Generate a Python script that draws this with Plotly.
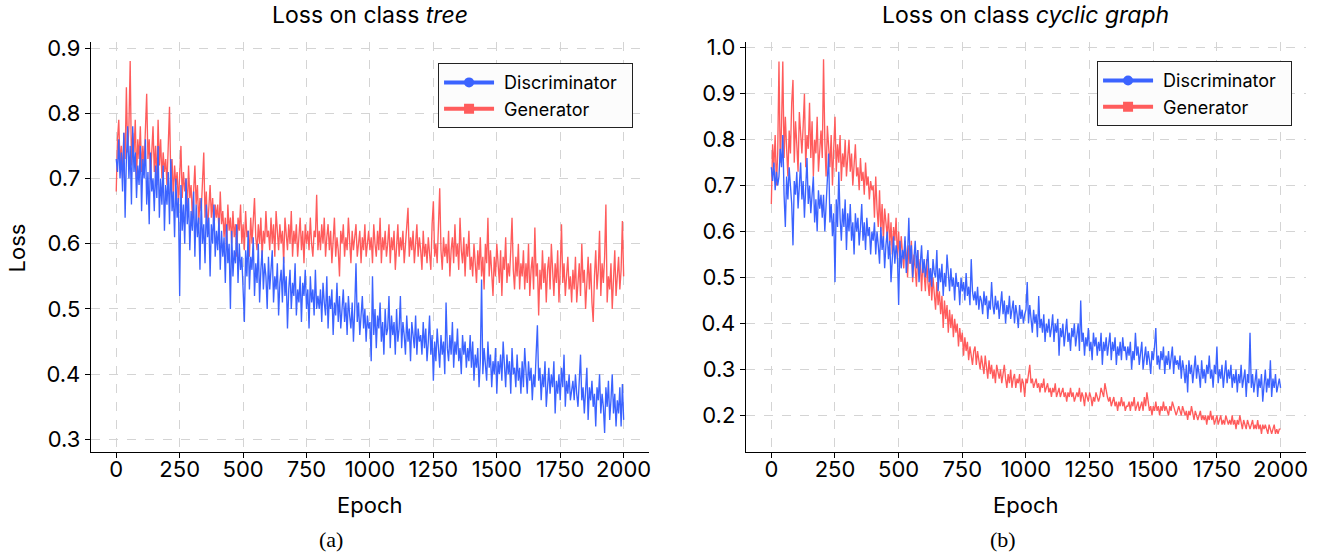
import plotly.graph_objects as go

# ---------------- data (sampled every 5 epochs) ----------------
epochs = list(range(0, 2001, 5))

tree_disc = [
    0.73, 0.71, 0.76, 0.70, 0.74, 0.68, 0.77, 0.64, 0.73, 0.78, 0.70, 0.75, 0.66, 0.78, 0.71, 0.74, 0.67, 0.72, 0.69, 0.75,
    0.65, 0.73, 0.70, 0.76, 0.66, 0.71, 0.63, 0.74, 0.68, 0.70, 0.65, 0.72, 0.67, 0.75, 0.64, 0.70, 0.66, 0.72, 0.62, 0.69,
    0.66, 0.71, 0.63, 0.73, 0.65, 0.68, 0.61, 0.70, 0.64, 0.67, 0.52, 0.69, 0.62, 0.66, 0.60, 0.70, 0.63, 0.67, 0.59, 0.65,
    0.62, 0.68, 0.58, 0.66, 0.61, 0.64, 0.56, 0.67, 0.60, 0.63, 0.57, 0.66, 0.61, 0.64, 0.55, 0.63, 0.60, 0.66, 0.58, 0.62,
    0.59, 0.64, 0.56, 0.62, 0.58, 0.61, 0.54, 0.63, 0.57, 0.60, 0.50, 0.62, 0.55, 0.59, 0.57, 0.63, 0.54, 0.60, 0.56, 0.58,
    0.53, 0.48, 0.59, 0.55, 0.62, 0.53, 0.58, 0.56, 0.61, 0.52, 0.57, 0.54, 0.60, 0.51, 0.56, 0.59, 0.53, 0.57, 0.55, 0.50,
    0.58, 0.53, 0.56, 0.59, 0.51, 0.55, 0.53, 0.57, 0.49, 0.54, 0.56, 0.51, 0.58, 0.52, 0.55, 0.47, 0.53, 0.56, 0.50, 0.54,
    0.52, 0.57, 0.49, 0.53, 0.51, 0.55, 0.48, 0.54, 0.52, 0.56, 0.50, 0.53, 0.47, 0.55, 0.51, 0.53, 0.49, 0.56, 0.50, 0.52,
    0.50, 0.53, 0.48, 0.54, 0.51, 0.49, 0.55, 0.47, 0.52, 0.50, 0.53, 0.46, 0.51, 0.49, 0.54, 0.48, 0.52, 0.47, 0.50, 0.53,
    0.48, 0.51, 0.46, 0.52, 0.49, 0.47, 0.51, 0.45, 0.50, 0.57, 0.48, 0.51, 0.46, 0.49, 0.52, 0.47, 0.50, 0.45, 0.49, 0.47,
    0.48, 0.42, 0.55, 0.46, 0.50, 0.44, 0.49, 0.47, 0.51, 0.45, 0.48, 0.43, 0.50, 0.46, 0.47, 0.52, 0.44, 0.49, 0.46, 0.48,
    0.43, 0.50, 0.45, 0.47, 0.52, 0.44, 0.48, 0.46, 0.43, 0.49, 0.45, 0.47, 0.42, 0.48, 0.46, 0.44, 0.49, 0.43, 0.47, 0.45,
    0.46, 0.43, 0.48, 0.44, 0.47, 0.42, 0.45, 0.49, 0.43, 0.46, 0.39, 0.45, 0.42, 0.47, 0.44, 0.41, 0.46, 0.43, 0.45, 0.40,
    0.51, 0.44, 0.42, 0.46, 0.43, 0.48, 0.41, 0.45, 0.43, 0.47, 0.42, 0.44, 0.40, 0.46, 0.43, 0.45, 0.41, 0.44, 0.42, 0.46,
    0.41, 0.45, 0.39, 0.43, 0.41, 0.44, 0.38, 0.42, 0.545, 0.40, 0.44, 0.42, 0.39, 0.45, 0.41, 0.43, 0.38, 0.42, 0.40, 0.44,
    0.37, 0.42, 0.40, 0.43, 0.39, 0.45, 0.41, 0.38, 0.43, 0.40, 0.42, 0.37, 0.44, 0.40, 0.41, 0.38, 0.43, 0.39, 0.41, 0.37,
    0.42, 0.38, 0.44, 0.40, 0.37, 0.42, 0.39, 0.41, 0.36, 0.40, 0.38, 0.43, 0.475, 0.39, 0.41, 0.36, 0.40, 0.38, 0.42, 0.35,
    0.39, 0.41, 0.37, 0.40, 0.38, 0.42, 0.34, 0.39, 0.37, 0.40, 0.36, 0.41, 0.38, 0.43, 0.35, 0.39, 0.37, 0.40, 0.36, 0.38,
    0.39, 0.36, 0.40, 0.37, 0.35, 0.39, 0.43, 0.36, 0.38, 0.34, 0.37, 0.41, 0.33, 0.38, 0.36, 0.39, 0.35, 0.37, 0.32, 0.38,
    0.36, 0.40, 0.34, 0.37, 0.35, 0.31, 0.38, 0.35, 0.39, 0.33, 0.36, 0.40, 0.34, 0.37, 0.32, 0.36, 0.34, 0.38, 0.32, 0.385,
    0.33,
]

tree_gen = [
    0.68, 0.76, 0.79, 0.72, 0.75, 0.70, 0.77, 0.73, 0.84, 0.74, 0.78, 0.88, 0.72, 0.77, 0.74, 0.79, 0.70, 0.76, 0.73, 0.78,
    0.71, 0.75, 0.72, 0.77, 0.83, 0.73, 0.76, 0.70, 0.74, 0.78, 0.71, 0.75, 0.69, 0.79, 0.72, 0.76, 0.70, 0.74, 0.71, 0.73,
    0.69, 0.74, 0.81, 0.70, 0.73, 0.67, 0.72, 0.69, 0.71, 0.66, 0.70, 0.75, 0.67, 0.71, 0.68, 0.70, 0.65, 0.72, 0.67, 0.69,
    0.64, 0.68, 0.72, 0.66, 0.69, 0.63, 0.67, 0.65, 0.70, 0.74, 0.64, 0.68, 0.62, 0.66, 0.69, 0.64, 0.67, 0.62, 0.66, 0.64,
    0.66, 0.62, 0.68, 0.63, 0.65, 0.61, 0.64, 0.59, 0.66, 0.62, 0.64, 0.60, 0.65, 0.61, 0.63, 0.58, 0.64, 0.62, 0.66, 0.60,
    0.63, 0.59, 0.65, 0.61, 0.62, 0.58, 0.64, 0.60, 0.63, 0.67, 0.61, 0.59, 0.63, 0.60, 0.64, 0.58, 0.62, 0.60, 0.65, 0.61,
    0.62, 0.59, 0.64, 0.60, 0.63, 0.58, 0.65, 0.61, 0.59, 0.63, 0.60, 0.62, 0.57, 0.64, 0.61, 0.59, 0.63, 0.60, 0.65, 0.58,
    0.62, 0.60, 0.63, 0.58, 0.61, 0.64, 0.59, 0.62, 0.57, 0.63, 0.60, 0.62, 0.59, 0.64, 0.60, 0.58, 0.62, 0.61, 0.675, 0.59,
    0.62, 0.59, 0.63, 0.60, 0.64, 0.58, 0.61, 0.63, 0.59, 0.62, 0.57, 0.60, 0.64, 0.58, 0.61, 0.59, 0.55, 0.62, 0.60, 0.63,
    0.58, 0.61, 0.59, 0.64, 0.60, 0.57, 0.62, 0.59, 0.61, 0.63, 0.58, 0.60, 0.62, 0.57, 0.61, 0.59, 0.63, 0.58, 0.60, 0.62,
    0.59, 0.61, 0.57, 0.63, 0.60, 0.58, 0.62, 0.59, 0.64, 0.57, 0.61, 0.59, 0.62, 0.58, 0.60, 0.63, 0.57, 0.61, 0.59, 0.62,
    0.56, 0.60, 0.63, 0.58, 0.61, 0.59, 0.62, 0.57, 0.60, 0.64, 0.655, 0.58, 0.61, 0.59, 0.62, 0.57, 0.60, 0.63, 0.58, 0.61,
    0.59, 0.56, 0.62, 0.58, 0.60, 0.57, 0.61, 0.59, 0.56, 0.63, 0.665, 0.58, 0.60, 0.57, 0.62, 0.685, 0.59, 0.56, 0.61, 0.58,
    0.60, 0.57, 0.62, 0.55, 0.59, 0.61, 0.57, 0.63, 0.58, 0.60, 0.56, 0.64, 0.59, 0.57, 0.61, 0.55, 0.60, 0.58, 0.62, 0.56,
    0.58, 0.55, 0.60, 0.57, 0.54, 0.59, 0.56, 0.61, 0.55, 0.58, 0.53, 0.60, 0.57, 0.64, 0.55, 0.59, 0.56, 0.52, 0.58, 0.55,
    0.60, 0.57, 0.54, 0.59, 0.52, 0.58, 0.56, 0.61, 0.54, 0.57, 0.55, 0.59, 0.64, 0.56, 0.53, 0.58, 0.55, 0.60, 0.53, 0.57,
    0.55, 0.59, 0.53, 0.57, 0.54, 0.60, 0.52, 0.56, 0.58, 0.53, 0.625, 0.55, 0.57, 0.49, 0.56, 0.53, 0.59, 0.54, 0.57, 0.51,
    0.56, 0.58, 0.53, 0.60, 0.55, 0.52, 0.57, 0.54, 0.59, 0.51, 0.56, 0.63, 0.54, 0.57, 0.52, 0.56, 0.58, 0.53, 0.55, 0.51,
    0.56, 0.53, 0.58, 0.51, 0.55, 0.57, 0.52, 0.60, 0.54, 0.56, 0.50, 0.55, 0.58, 0.53, 0.57, 0.51, 0.48, 0.55, 0.59, 0.53,
    0.56, 0.62, 0.52, 0.57, 0.54, 0.58, 0.66, 0.51, 0.55, 0.53, 0.57, 0.50, 0.56, 0.59, 0.52, 0.55, 0.58, 0.53, 0.56, 0.635,
    0.55,
]

cyc_disc = [
    0.74, 0.71, 0.75, 0.69, 0.73, 0.70, 0.72, 0.78, 0.74, 0.81, 0.68, 0.61, 0.72, 0.67, 0.74, 0.70, 0.66, 0.57, 0.71, 0.68,
    0.73, 0.65, 0.70, 0.75, 0.67, 0.71, 0.63, 0.69, 0.76, 0.66, 0.70, 0.64, 0.68, 0.72, 0.62, 0.67, 0.60, 0.69, 0.65, 0.68,
    0.63, 0.68, 0.60, 0.66, 0.70, 0.77, 0.62, 0.66, 0.59, 0.64, 0.49, 0.67, 0.61, 0.73, 0.63, 0.58, 0.65, 0.61, 0.67, 0.56,
    0.64, 0.60, 0.66, 0.58, 0.62, 0.55, 0.64, 0.60, 0.63, 0.57, 0.61, 0.66, 0.58, 0.62, 0.56, 0.63, 0.59, 0.61, 0.55, 0.60,
    0.58, 0.62, 0.55, 0.60, 0.57, 0.53, 0.61, 0.56, 0.59, 0.52, 0.57, 0.60, 0.54, 0.58, 0.49, 0.56, 0.59, 0.53, 0.57, 0.55,
    0.44, 0.58, 0.52, 0.56, 0.54, 0.59, 0.51, 0.55, 0.63, 0.53, 0.57, 0.50, 0.55, 0.58, 0.52, 0.56, 0.49, 0.54, 0.57, 0.51,
    0.54, 0.50, 0.53, 0.56, 0.49, 0.52, 0.48, 0.54, 0.51, 0.50, 0.56, 0.47, 0.52, 0.49, 0.53, 0.46, 0.51, 0.48, 0.55, 0.50,
    0.47, 0.52, 0.48, 0.50, 0.45, 0.51, 0.48, 0.49, 0.44, 0.50, 0.47, 0.49, 0.45, 0.51, 0.46, 0.48, 0.44, 0.54, 0.47, 0.45,
    0.47, 0.44, 0.48, 0.43, 0.46, 0.45, 0.42, 0.47, 0.44, 0.46, 0.41, 0.45, 0.43, 0.49, 0.44, 0.42, 0.46, 0.43, 0.45, 0.41,
    0.44, 0.47, 0.42, 0.45, 0.40, 0.44, 0.42, 0.46, 0.41, 0.43, 0.45, 0.40, 0.44, 0.42, 0.39, 0.44, 0.41, 0.43, 0.40, 0.42,
    0.43, 0.49, 0.40, 0.44, 0.41, 0.38, 0.43, 0.40, 0.42, 0.37, 0.46, 0.39, 0.41, 0.38, 0.42, 0.36, 0.40, 0.38, 0.41, 0.37,
    0.39, 0.42, 0.36, 0.40, 0.38, 0.41, 0.33, 0.39, 0.37, 0.40, 0.35, 0.38, 0.41, 0.36, 0.38, 0.34, 0.39, 0.37, 0.40, 0.35,
    0.37, 0.40, 0.34, 0.45, 0.36, 0.38, 0.33, 0.37, 0.35, 0.39, 0.34, 0.36, 0.32, 0.38, 0.35, 0.37, 0.33, 0.36, 0.34, 0.38,
    0.31, 0.36, 0.34, 0.37, 0.33, 0.35, 0.38, 0.32, 0.36, 0.34, 0.37, 0.31, 0.35, 0.33, 0.36, 0.32, 0.37, 0.34, 0.35, 0.32,
    0.35, 0.33, 0.36, 0.30, 0.34, 0.32, 0.38, 0.33, 0.35, 0.31, 0.34, 0.36, 0.30, 0.33, 0.35, 0.31, 0.34, 0.32, 0.29, 0.34,
    0.32, 0.35, 0.39, 0.31, 0.33, 0.30, 0.34, 0.32, 0.35, 0.29, 0.33, 0.31, 0.34, 0.30, 0.32, 0.35, 0.29, 0.33, 0.31, 0.32,
    0.30, 0.33, 0.28, 0.32, 0.30, 0.27, 0.31, 0.25, 0.32, 0.29, 0.31, 0.27, 0.30, 0.33, 0.28, 0.31, 0.29, 0.26, 0.32, 0.28,
    0.30, 0.27, 0.31, 0.29, 0.33, 0.28, 0.30, 0.26, 0.31, 0.29, 0.35, 0.27, 0.30, 0.28, 0.31, 0.26, 0.29, 0.32, 0.27, 0.30,
    0.28, 0.31, 0.26, 0.29, 0.27, 0.30, 0.25, 0.29, 0.27, 0.31, 0.26, 0.28, 0.30, 0.24, 0.29, 0.27, 0.38, 0.26, 0.29, 0.25,
    0.28, 0.30, 0.24, 0.28, 0.26, 0.29, 0.23, 0.27, 0.30, 0.25, 0.28, 0.26, 0.32, 0.24, 0.28, 0.26, 0.29, 0.25, 0.27, 0.28,
    0.26,
]

cyc_gen = [
    0.66, 0.79, 0.74, 0.81, 0.70, 0.77, 0.97, 0.75, 0.83, 0.97, 0.76, 0.85, 0.78, 0.72, 0.82, 0.77, 0.88, 0.93, 0.75, 0.84,
    0.79, 0.73, 0.86, 0.80, 0.77, 0.83, 0.90, 0.74, 0.81, 0.78, 0.88, 0.76, 0.84, 0.72, 0.80, 0.77, 0.85, 0.73, 0.79, 0.82,
    0.76, 0.975, 0.80, 0.72, 0.83, 0.77, 0.74, 0.81, 0.70, 0.78, 0.85, 0.73, 0.79, 0.75, 0.81, 0.71, 0.77, 0.74, 0.80, 0.72,
    0.76, 0.80, 0.73, 0.77, 0.70, 0.75, 0.79, 0.72, 0.74, 0.69, 0.76, 0.71, 0.73, 0.68, 0.75, 0.70, 0.72, 0.67, 0.71, 0.69,
    0.70, 0.63, 0.72, 0.65, 0.61, 0.69, 0.60, 0.66, 0.58, 0.65, 0.62, 0.59, 0.64, 0.57, 0.62, 0.55, 0.61, 0.58, 0.63, 0.54,
    0.60, 0.53, 0.59, 0.56, 0.52, 0.58, 0.55, 0.50, 0.57, 0.53, 0.58, 0.49, 0.55, 0.52, 0.48, 0.56, 0.51, 0.54, 0.47, 0.53,
    0.51, 0.47, 0.54, 0.49, 0.46, 0.52, 0.45, 0.50, 0.47, 0.43, 0.49, 0.44, 0.47, 0.42, 0.46, 0.39, 0.45, 0.41, 0.44, 0.38,
    0.43, 0.39, 0.42, 0.37, 0.41, 0.38, 0.40, 0.35, 0.39, 0.36, 0.38, 0.33, 0.37, 0.34, 0.36, 0.32, 0.35, 0.33, 0.31, 0.34,
    0.35, 0.31, 0.34, 0.32, 0.30, 0.33, 0.31, 0.29, 0.33, 0.30, 0.28, 0.32, 0.29, 0.31, 0.28, 0.30, 0.27, 0.31, 0.29, 0.28,
    0.30, 0.27, 0.29, 0.31, 0.28, 0.26, 0.29, 0.27, 0.30, 0.26, 0.28, 0.29, 0.26, 0.28, 0.27, 0.29, 0.25, 0.28, 0.27, 0.24,
    0.28, 0.27, 0.29, 0.31, 0.27, 0.28, 0.26, 0.27, 0.28, 0.26, 0.27, 0.25, 0.27, 0.26, 0.28, 0.25, 0.26, 0.27, 0.25, 0.26,
    0.24, 0.26, 0.25, 0.27, 0.24, 0.25, 0.26, 0.24, 0.25, 0.26, 0.24, 0.25, 0.23, 0.25, 0.24, 0.26, 0.24, 0.25, 0.23, 0.24,
    0.25, 0.24, 0.26, 0.23, 0.25, 0.24, 0.22, 0.25, 0.24, 0.23, 0.25, 0.24, 0.22, 0.24, 0.23, 0.25, 0.24, 0.23, 0.24, 0.26,
    0.25, 0.24, 0.27, 0.25, 0.24, 0.23, 0.24, 0.22, 0.23, 0.24, 0.22, 0.23, 0.21, 0.23, 0.22, 0.24, 0.22, 0.23, 0.21, 0.22,
    0.22, 0.23, 0.21, 0.23, 0.22, 0.24, 0.21, 0.22, 0.23, 0.21, 0.22, 0.23, 0.21, 0.24, 0.22, 0.25, 0.23, 0.21, 0.22, 0.20,
    0.22, 0.21, 0.23, 0.21, 0.22, 0.20, 0.22, 0.21, 0.23, 0.21, 0.22, 0.21, 0.20, 0.22, 0.21, 0.23, 0.22, 0.21, 0.20, 0.21,
    0.22, 0.21, 0.20, 0.22, 0.21, 0.20, 0.21, 0.19, 0.21, 0.20, 0.22, 0.20, 0.19, 0.21, 0.20, 0.19, 0.20, 0.21, 0.19, 0.20,
    0.19, 0.20, 0.18, 0.20, 0.19, 0.21, 0.19, 0.20, 0.18, 0.19, 0.20, 0.18, 0.19, 0.20, 0.18, 0.19, 0.18, 0.20, 0.19, 0.18,
    0.19, 0.18, 0.20, 0.18, 0.19, 0.17, 0.19, 0.18, 0.20, 0.18, 0.17, 0.19, 0.18, 0.17, 0.19, 0.18, 0.17, 0.18, 0.19, 0.17,
    0.18, 0.17, 0.19, 0.17, 0.18, 0.16, 0.18, 0.17, 0.18, 0.17, 0.16, 0.18, 0.17, 0.16, 0.17, 0.18, 0.16, 0.17, 0.16, 0.17,
    0.17,
]

x_ticks = [0, 250, 500, 750, 1000, 1250, 1500, 1750, 2000]
y_ticks_tree = [0.3, 0.4, 0.5, 0.6, 0.7, 0.8, 0.9]
y_ticks_cyc = [0.2, 0.3, 0.4, 0.5, 0.6, 0.7, 0.8, 0.9, 1.0]
series_names = ["Discriminator", "Generator"]
titles = ["Loss on class <i>tree</i>", "Loss on class <i>cyclic graph</i>"]
captions = ["(a)", "(b)"]

# ---------------- style ----------------
W, H = 1332, 556
BLUE = "#3B63FF"
RED = "#FF5C5C"
FONT = "Inter"
NB = "\u00a0"


def px_x(p):
    return p / W


def px_y(p):
    return (H - p) / H


fig = go.Figure()

# data traces: generator first, discriminator on top
for xa, ya, d, g in [("x", "y", tree_disc, tree_gen), ("x2", "y2", cyc_disc, cyc_gen)]:
    fig.add_trace(go.Scatter(x=epochs[:len(g)], y=g, mode="lines", line=dict(color=RED, width=1.35),
                             xaxis=xa, yaxis=ya, showlegend=False, hoverinfo="skip"))
    fig.add_trace(go.Scatter(x=epochs[:len(d)], y=d, mode="lines", line=dict(color=BLUE, width=1.35),
                             xaxis=xa, yaxis=ya, showlegend=False, hoverinfo="skip"))

# legend proxies
for lg in ["legend", "legend2"]:
    xa, ya = ("x", "y") if lg == "legend" else ("x2", "y2")
    fig.add_trace(go.Scatter(x=[None], y=[None], mode="lines+markers", name=NB + series_names[0] + NB + NB,
                             line=dict(color=BLUE, width=4), marker=dict(symbol="circle", size=10, color=BLUE),
                             xaxis=xa, yaxis=ya, legend=lg, legendgroup=lg + "d"))
    fig.add_trace(go.Scatter(x=[None], y=[None], mode="lines+markers", name=NB + series_names[1] + NB + NB,
                             line=dict(color=RED, width=4), marker=dict(symbol="square", size=10, color=RED),
                             xaxis=xa, yaxis=ya, legend=lg, legendgroup=lg + "g"))

axis_common = dict(
    showline=True, linecolor="#000000", linewidth=1.3,
    ticks="outside", ticklen=5, tickwidth=1.3, tickcolor="#000000",
    showgrid=True, gridcolor="#D4D4D4", griddash="dash", gridwidth=1,
    zeroline=False, tickfont=dict(family=FONT, size=22, color="#000000"),
    mirror=False,
)

legend_common = dict(xanchor="right", yanchor="top", bgcolor="#FCFCFC", bordercolor="#222222", borderwidth=1,
                     font=dict(family=FONT, size=18, color="#000000"), itemwidth=50, tracegroupgap=0)

y0, y1 = px_y(450), px_y(35)
fig.update_layout(
    width=W, height=H,
    margin=dict(l=0, r=0, t=0, b=0),
    paper_bgcolor="white", plot_bgcolor="white",
    font=dict(family=FONT, color="#000000"),
    xaxis=dict(domain=[px_x(91), px_x(650)], range=[-100, 2100], tickvals=x_ticks, anchor="y",
               ticklabelstandoff=-7, **axis_common),
    yaxis=dict(domain=[y0, y1], range=[0.2815, 0.9085], tickvals=y_ticks_tree, tickformat=".1f", anchor="x",
               **axis_common),
    xaxis2=dict(domain=[px_x(747), px_x(1308)], range=[-100, 2100], tickvals=x_ticks, anchor="y2",
                ticklabelstandoff=-7, **axis_common),
    yaxis2=dict(domain=[y0, y1], range=[0.1214, 1.0114], tickvals=y_ticks_cyc, tickformat=".1f", anchor="x2",
                **axis_common),
    legend=dict(x=px_x(634), y=px_y(56), **legend_common),
    legend2=dict(x=px_x(1294), y=px_y(54), **legend_common),
    showlegend=True,
)

annotations = []
centers = [(91 + 650) / 2, (747 + 1308) / 2]
for i in range(2):
    annotations.append(dict(text=titles[i], x=px_x(centers[i]), y=px_y(7), xref="paper", yref="paper",
                            xanchor="center", yanchor="middle", showarrow=False,
                            font=dict(family=FONT, size=23, color="#000000")))
    annotations.append(dict(text="Epoch", x=px_x(centers[i]), y=px_y(504), xref="paper", yref="paper",
                            xanchor="center", yanchor="middle", showarrow=False,
                            font=dict(family=FONT, size=22, color="#000000")))
    annotations.append(dict(text=captions[i], x=px_x([331, 1005][i]), y=px_y(539), xref="paper", yref="paper",
                            xanchor="center", yanchor="middle", showarrow=False,
                            font=dict(family="Liberation Serif", size=22, color="#000000")))
annotations.append(dict(text="Loss", x=px_x(17), y=px_y(243), xref="paper", yref="paper",
                        xanchor="center", yanchor="middle", showarrow=False, textangle=-90,
                        font=dict(family=FONT, size=22, color="#000000")))
fig.update_layout(annotations=annotations)

fig.write_html("out.html", config={"displayModeBar": False},
               post_script="document.body.style.margin='0px';document.body.style.overflow='hidden';")
